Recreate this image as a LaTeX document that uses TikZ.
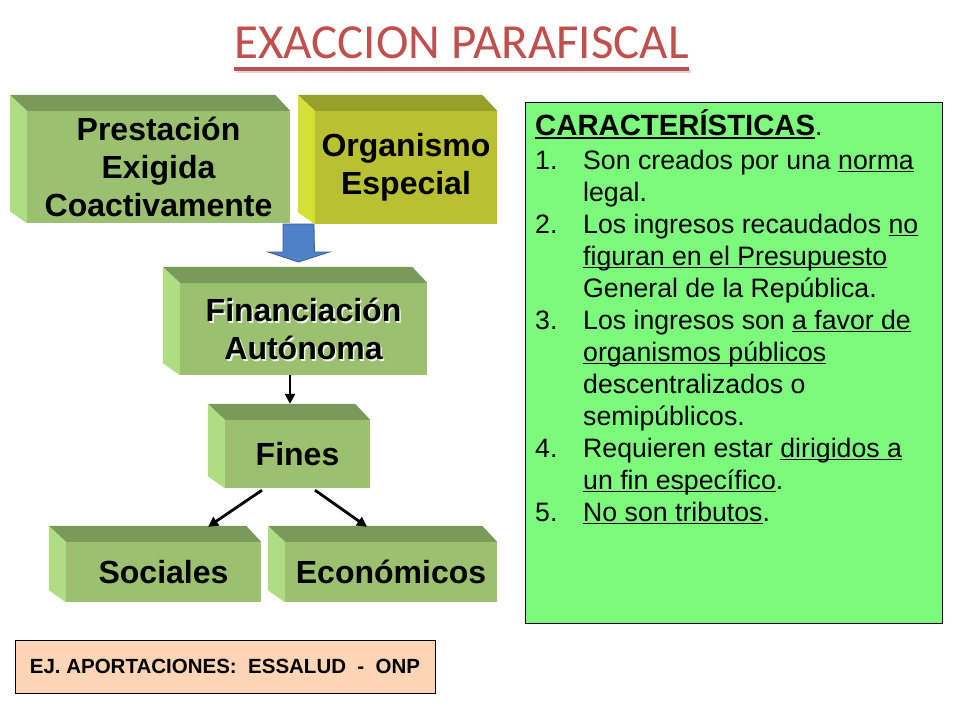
\documentclass[tikz,border=0pt]{standalone}
\usepackage{fontspec}
\setmainfont{Liberation Sans}
\newfontfamily\titlefont{Carlito}
\usetikzlibrary{arrows.meta}
\definecolor{gfront}{HTML}{9BC170}
\definecolor{gtop}{HTML}{7A9A5A}
\definecolor{gleft}{HTML}{B0DC84}
\definecolor{yfront}{HTML}{B9C132}
\definecolor{ytop}{HTML}{97A02B}
\definecolor{yleft}{HTML}{D4E034}
\definecolor{arrblue}{HTML}{4F81C7}
\definecolor{arredge}{HTML}{3A5F9A}
\definecolor{titred}{HTML}{C0504D}
\definecolor{peach}{HTML}{FCD5B5}
\definecolor{lgreen}{HTML}{7CFA7C}
\newsavebox\ulbox
\newcommand\ulx[1]{\sbox\ulbox{#1}\rlap{\rule[-0.13em]{\wd\ulbox}{0.07em}}\usebox\ulbox}
\newcommand\blockfaces[3]{%
  \fill[#2] (#1.north west) -- ++(-17,-16) -- ([xshift=-15pt,yshift=16pt]#1.north east) -- (#1.north east) -- cycle;
  \fill[#3] (#1.north west) -- ++(-17,-16) -- ([xshift=-17pt,yshift=12pt]#1.south west) -- (#1.south west) -- cycle;}
\tikzset{
  block/.style={fill=gfront, inner sep=0pt, align=center, font=\bfseries\fontsize{32}{38}\selectfont},
  conn/.style={line width=2.8pt, -{Triangle[length=10pt,width=10pt]}},
}
\begin{document}
\begin{tikzpicture}[x=1pt,y=-1pt]
\useasboundingbox (0,0) rectangle (960,720);
\fill[white] (0,0) rectangle (960,720);
% title
\node[anchor=base, inner sep=0pt, font=\titlefont\fontsize{49}{56}\selectfont, text=titred] (title) at (461.5,58) {EXACCION PARAFISCAL};
\draw[black!15, line width=3.2pt] ([xshift=2pt,yshift=-13pt]title.base west) -- ([xshift=2pt,yshift=-13pt]title.base east);
\draw[titred, line width=3.2pt] ([yshift=-11pt]title.base west) -- ([yshift=-11pt]title.base east);
% blocks
\node[block, minimum width=263pt, minimum height=112pt] (prest) at (158.5,167) {Prestación\\Exigida\\Coactivamente};
\blockfaces{prest}{gtop}{gleft}
\node[block, fill=yfront, minimum width=182pt, minimum height=113pt] (organ) at (406,167.5) {Organismo\\Especial};
\blockfaces{organ}{ytop}{yleft}
\node[block, minimum width=247pt, minimum height=92pt] (finan) at (303.5,329) {};
\blockfaces{finan}{gtop}{gleft}
\node[block, fill=none, text=white!85!gfront] (finanshadow) at ([shift={(1.6pt,-1.6pt)}]finan.center) {Financiación\\Autónoma};
\node[block, fill=none] (finantext) at (finan.center) {Financiación\\Autónoma};
\node[block, minimum width=145pt, minimum height=68pt] (fines) at (297.5,454) {Fines};
\blockfaces{fines}{gtop}{gleft}
\node[block, minimum width=195pt, minimum height=60pt] (soc) at (163.5,572) {Sociales};
\blockfaces{soc}{gtop}{gleft}
\node[block, minimum width=212pt, minimum height=60pt] (eco) at (391,572) {Económicos};
\blockfaces{eco}{gtop}{gleft}
% blue arrow
\coordinate (arrtop) at (298.5,224);
\filldraw[fill=arrblue, draw=arredge, line width=0.8pt, line join=miter]
  ([xshift=-15.5pt]arrtop) -- ++(0,28) -- ++(-15,0) -- (298.5,262) -- ++(31,-10) -- ++(-15,0) -- ([xshift=15.5pt]arrtop) -- cycle;
% connectors
\draw[conn] ([xshift=-13.5pt]finan.south) -- ([xshift=-7.5pt,yshift=16pt]fines.north);
\draw[conn] ([xshift=-35.5pt,yshift=-2pt]fines.south) -- ([xshift=44.5pt,yshift=15pt]soc.north);
\draw[conn] ([xshift=17.5pt,yshift=-2pt]fines.south) -- ([xshift=-24pt,yshift=15pt]eco.north);
% example box
\node[draw=black, line width=0.9pt, fill=peach, minimum width=420pt, minimum height=53pt, inner sep=0pt,
  font=\bfseries\fontsize{20.5}{24}\selectfont] (ej) at (225,666.5) {EJ. APORTACIONES:\ \ ESSALUD\ \ -\ \ ONP};
% characteristics
\node[draw=black, line width=0.9pt, fill=lgreen, minimum width=417pt, minimum height=521pt, inner sep=0pt] (charbox) at (733.5,362.5) {};
\node[anchor=base west, inner sep=0pt, font=\fontsize{26.67}{32}\selectfont] (chartext) at (535,135) {%
\begin{tabular}[t]{@{}p{48pt}@{}l@{}}
\multicolumn{2}{@{}l@{}}{\fontsize{29.3}{32}\selectfont\bfseries\ulx{CARACTERÍSTICAS}\mdseries\fontsize{26.67}{32}\selectfont.}\\[2pt]
1. & Son creados por una \ulx{norma}\\
 & legal.\\
2. & Los ingresos recaudados \ulx{no}\\
 & \ulx{figuran en el Presupuesto}\\
 & General de la República.\\
3. & Los ingresos son \ulx{a favor de}\\
 & \ulx{organismos públicos}\\
 & descentralizados o\\
 & semipúblicos.\\
4. & Requieren estar \ulx{dirigidos a}\\
 & \ulx{un fin específico}.\\
5. & \ulx{No son tributos}.\\
\end{tabular}};
\end{tikzpicture}
\end{document}
